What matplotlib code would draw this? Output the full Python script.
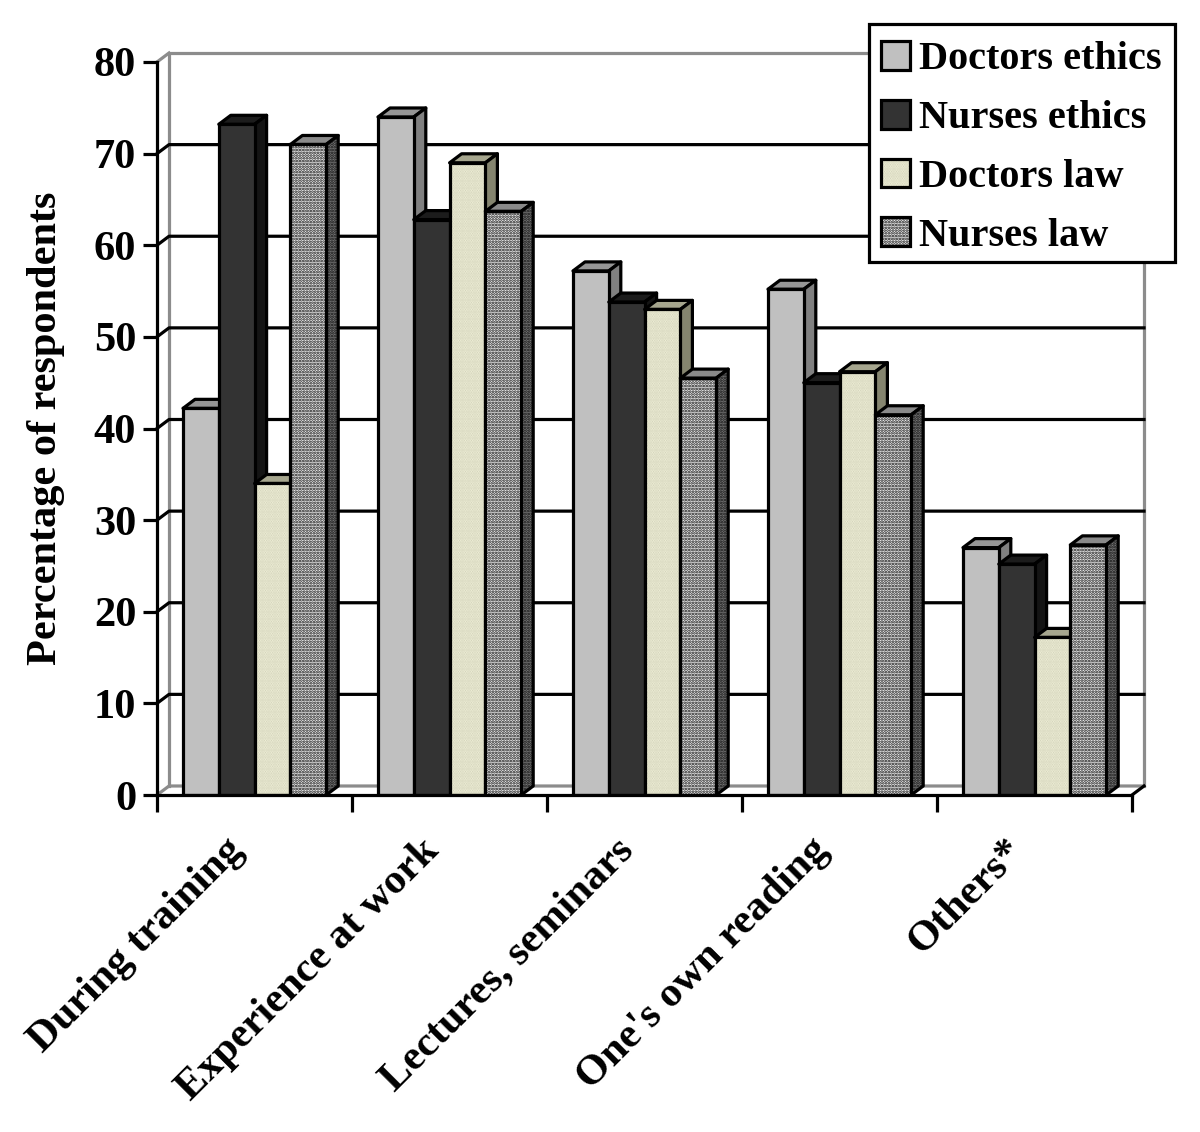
import matplotlib
matplotlib.use('Agg')
import matplotlib.pyplot as plt
from matplotlib.patches import Polygon, Patch, Rectangle
from matplotlib.legend_handler import HandlerTuple
from matplotlib.transforms import ScaledTranslation
import numpy as np

categories = ['During training', 'Experience at work', 'Lectures, seminars',
              "One's own reading", 'Others*']
doctors_ethics = [42.2, 74, 57.2, 55.2, 27]
nurses_ethics = [73.2, 62.8, 53.8, 45, 25.2]
doctors_law = [34, 69, 53, 46.2, 17.2]
nurses_law = [71, 63.7, 45.5, 41.5, 27.3]
y_ticks = list(range(0, 90, 10))

series = [
    ('Doctors ethics', doctors_ethics, '#c0c0c0', None, None, '#969696', '#808080'),
    ('Nurses ethics', nurses_ethics, '#333333', None, None, '#1c1c1c', '#141414'),
    ('Doctors law', doctors_law, '#f4f4dc', '#d0d0b8', '.......', '#a6a68e', '#85856f'),
    ('Nurses law', nurses_law, '#f0f0f0', '#111111', '......', '#8a8a8a', '#4a4a4a'),
]

plt.rcParams['font.family'] = 'Liberation Serif'
plt.rcParams['font.weight'] = 'bold'
plt.rcParams['hatch.linewidth'] = 1.3

fig = plt.figure(figsize=(12, 11.32), dpi=100)
ax = fig.add_axes([157 / 1200, 1 - 795 / 1132, 975 / 1200, 733 / 1132])
ax.set_xlim(0, 5)
ax.set_ylim(0, 80)

# depth of the fake 3d box, in data units
dx = 12 / 195
dy = 9 / 9.16
bar_w = 35.8 / 195
bar_start = 26 / 195
lw = 2.3
gray = '#8c8c8c'
font_size = 30.5

# back wall
ax.plot([dx, dx, 5 + dx, 5 + dx], [dy, 80 + dy, 80 + dy, dy], color=gray, lw=lw, clip_on=False, zorder=1)
ax.plot([0, dx, 5 + dx], [0, dy, dy], color=gray, lw=lw, clip_on=False, zorder=1)
ax.plot([0, dx], [80, 80 + dy], color=gray, lw=lw, clip_on=False, zorder=1)
ax.plot([5, 5 + dx], [0, dy], color='black', lw=lw, clip_on=False, zorder=1)
for v in y_ticks[1:-1]:
    ax.plot([0, dx, 5 + dx], [v, v + dy, v + dy], color='black', lw=lw, clip_on=False, zorder=1)

z = 3
for c in range(len(categories)):
    for s, (name, vals, fc, hc, hatch, top_c, side_c) in enumerate(series):
        x0 = c + bar_start + s * bar_w
        h = vals[c]
        ax.add_patch(Polygon([(x0, h), (x0 + dx, h + dy), (x0 + bar_w + dx, h + dy), (x0 + bar_w, h)],
                             closed=True, facecolor=top_c, edgecolor='black', lw=lw, zorder=z,
                             clip_on=False, joinstyle='round'))
        side = [(x0 + bar_w, 0), (x0 + bar_w + dx, dy), (x0 + bar_w + dx, h + dy), (x0 + bar_w, h)]
        if name == 'Nurses law':
            ax.add_patch(Polygon(side, closed=True, facecolor='#777777', edgecolor='#111111', hatch='......',
                                 lw=0, zorder=z, clip_on=False))
            ax.add_patch(Polygon(side, closed=True, fill=False, edgecolor='black', lw=lw, zorder=z,
                                 clip_on=False, joinstyle='round'))
        else:
            ax.add_patch(Polygon(side, closed=True, facecolor=side_c, edgecolor='black', lw=lw, zorder=z,
                                 clip_on=False, joinstyle='round'))
        if hatch:
            ax.bar(x0, h, bar_w, align='edge', color=fc, edgecolor=hc, hatch=hatch, lw=0, zorder=z + 0.1)
            ax.bar(x0, h, bar_w, align='edge', fill=False, edgecolor='black', lw=lw, zorder=z + 0.2)
        else:
            ax.bar(x0, h, bar_w, align='edge', color=fc, edgecolor='black', lw=lw, zorder=z + 0.1)
        z += 1

for side_name in ['top', 'right']:
    ax.spines[side_name].set_visible(False)
for side_name in ['left', 'bottom']:
    ax.spines[side_name].set_linewidth(lw)
    ax.spines[side_name].set_zorder(100)

ax.set_yticks(y_ticks)
ax.set_xticks(range(6))
ax.set_xticklabels([])
ax.tick_params(axis='y', length=10, width=lw, labelsize=font_size, pad=5)
ax.tick_params(axis='x', length=12, width=lw)
ax.set_xticks(np.arange(len(categories)) + 0.5, minor=True)
ax.set_xticklabels(categories, minor=True, rotation=45, ha='right', va='top', rotation_mode='anchor', fontsize=font_size)
ax.tick_params(axis='x', which='minor', length=0, pad=26)
shift = ScaledTranslation(-0.30, 0, fig.dpi_scale_trans)
for lab in ax.get_xticklabels(minor=True):
    lab.set_transform(lab.get_transform() + shift)

ax.set_ylabel('Percentage of respondents', fontsize=font_size, fontweight='bold')
ax.yaxis.set_label_coords((65 - 157) / 975, 0.5)

# legend box drawn separately so its padding can be set exactly
fig.add_artist(Rectangle((869 / 1200, 1 - 262 / 1132), 306 / 1200, 238 / 1132, transform=fig.transFigure,
                         facecolor='white', edgecolor='black', lw=lw, zorder=199))
handles = []
for name, vals, fc, hc, hatch, top_c, side_c in series:
    if hatch:
        handles.append((Patch(facecolor=fc, edgecolor=hc, hatch=hatch, lw=0),
                        Patch(fill=False, edgecolor='black', lw=lw)))
    else:
        handles.append(Patch(facecolor=fc, edgecolor='black', lw=lw))
leg = fig.legend(handles=handles, labels=[s[0] for s in series], loc='upper left',
                 bbox_to_anchor=(881 / 1200, 1 - 41 / 1132),
                 bbox_transform=fig.transFigure, fontsize=29, frameon=False,
                 handlelength=0.72, handleheight=0.72, handletextpad=0.225,
                 labelspacing=0.53, borderpad=0, borderaxespad=0,
                 handler_map={tuple: HandlerTuple(ndivide=1, pad=0)})
leg.set_zorder(200)

fig.savefig('out.png', dpi=100)
